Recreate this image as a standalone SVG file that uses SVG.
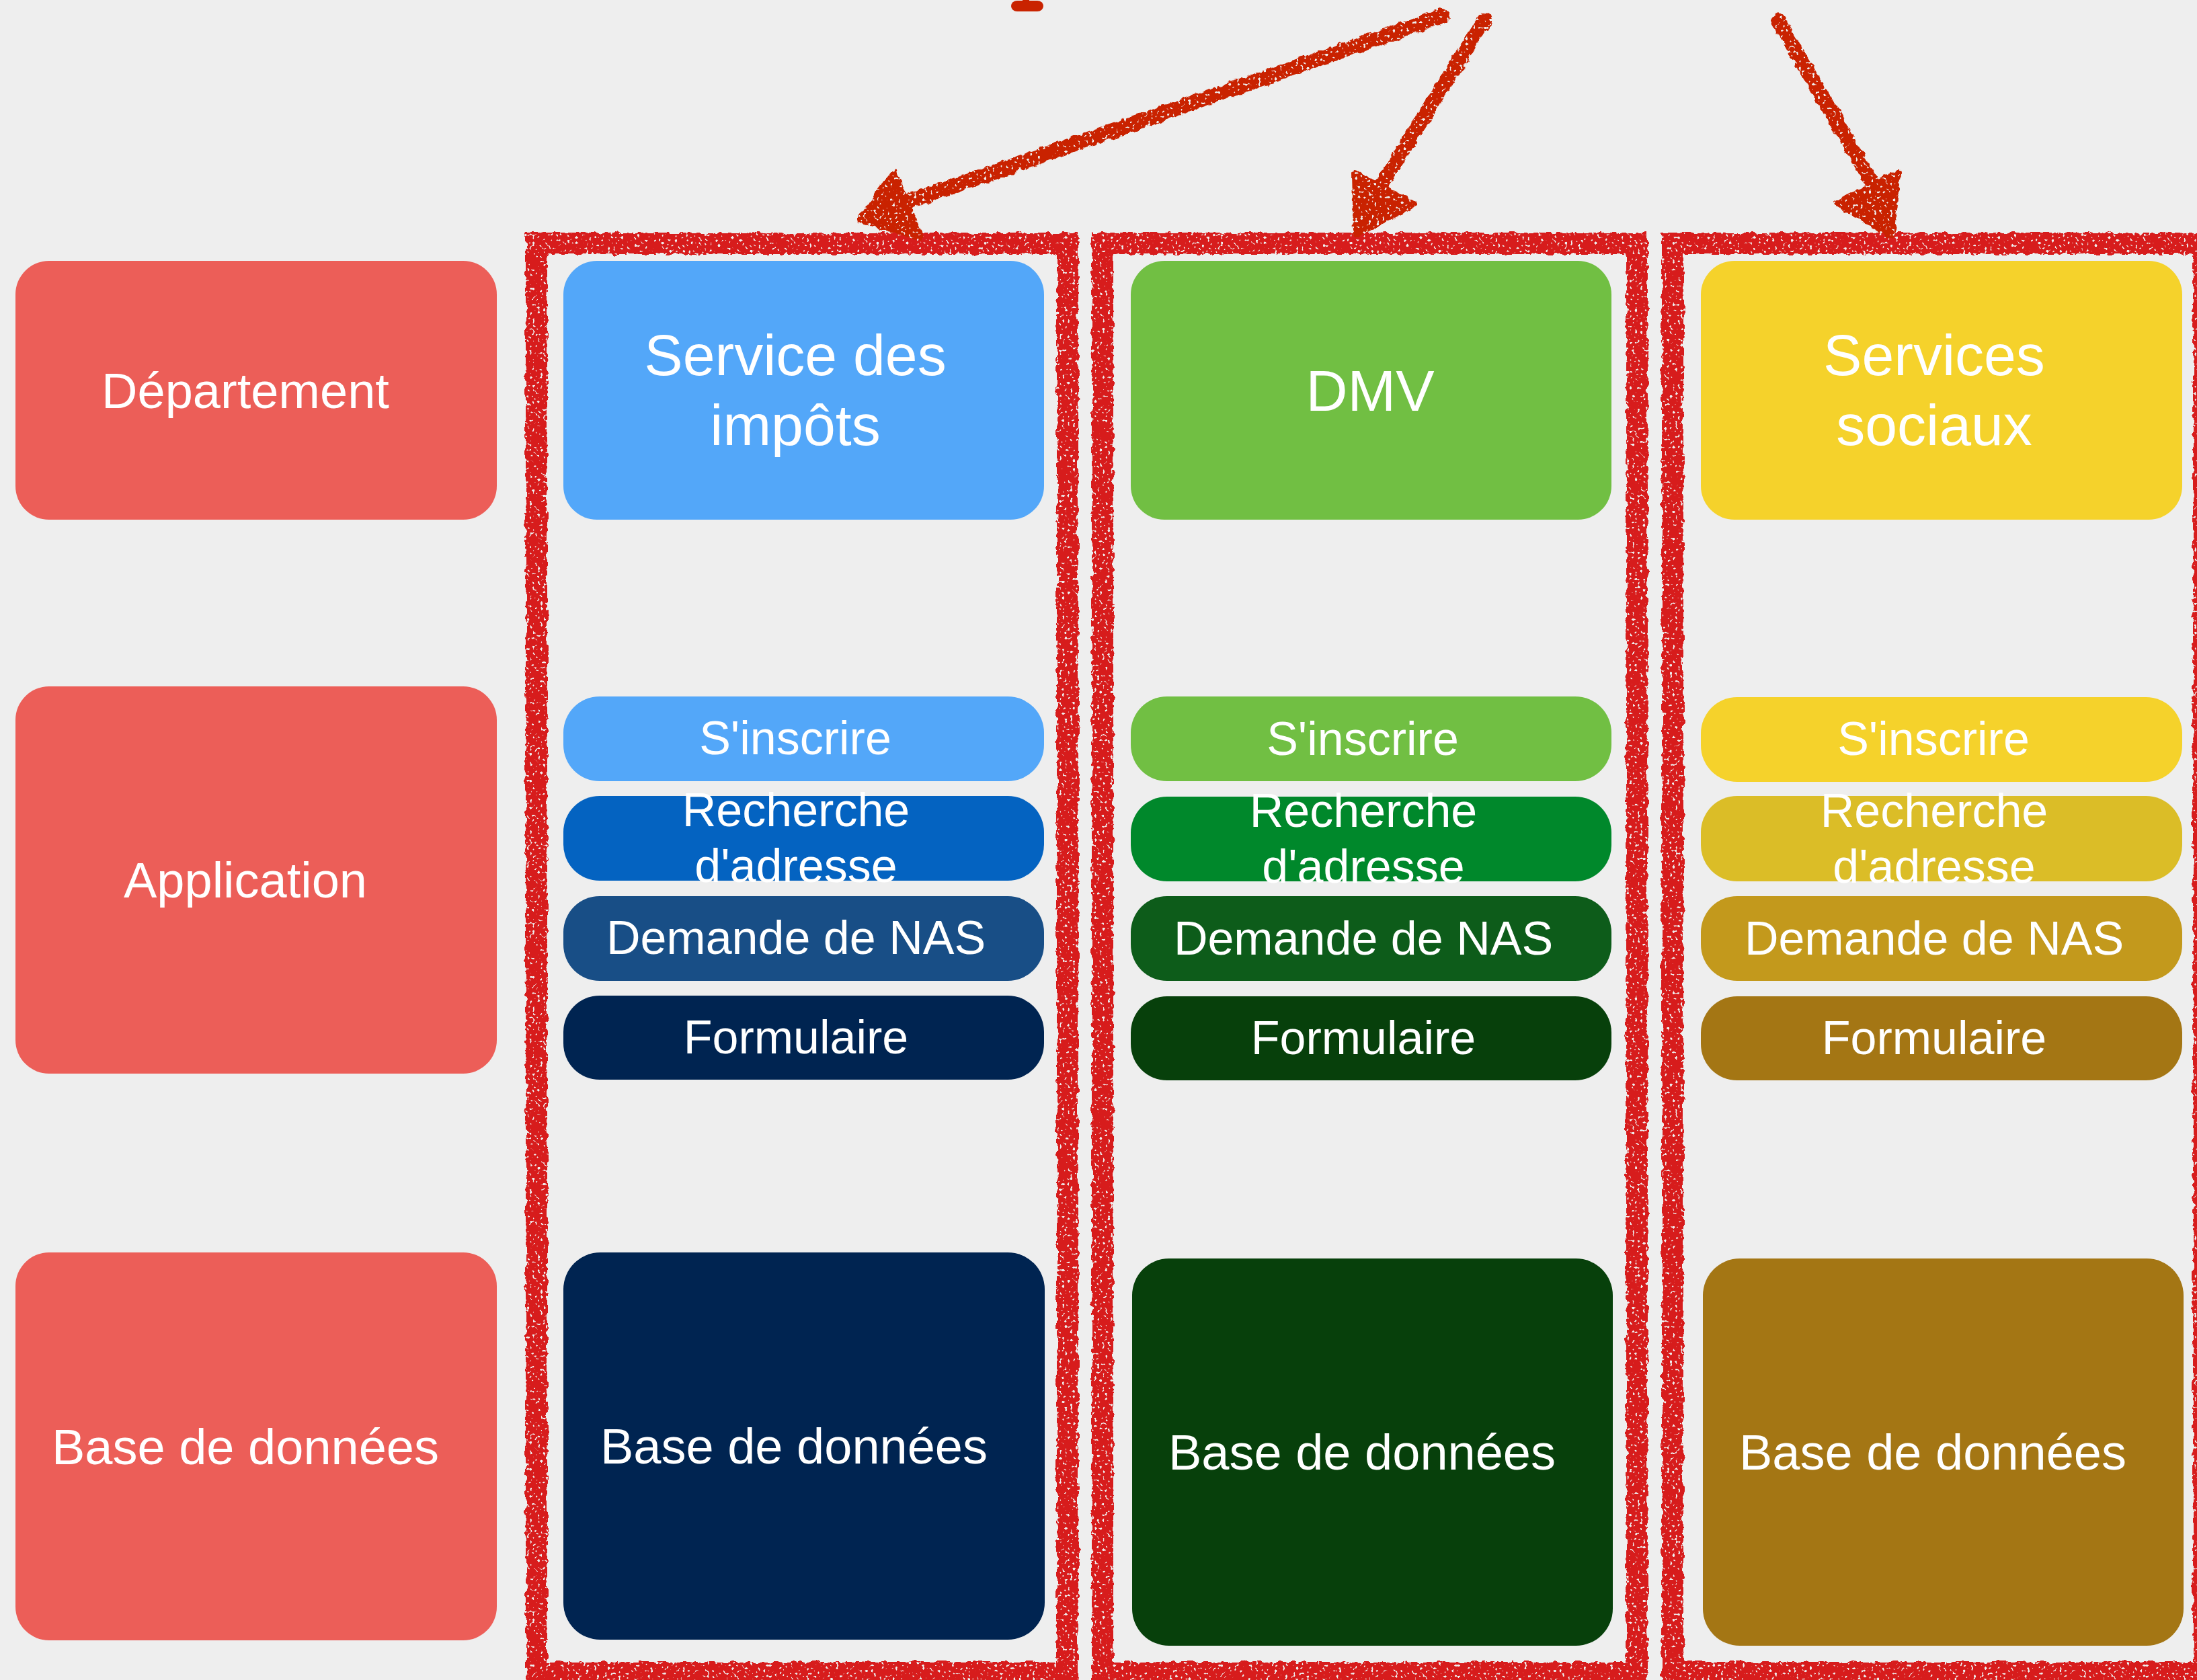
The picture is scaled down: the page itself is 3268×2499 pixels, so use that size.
<svg xmlns="http://www.w3.org/2000/svg" width="3268" height="2499" viewBox="0 0 3268 2499">
  <defs>
    <filter id="rough" filterUnits="userSpaceOnUse" x="0" y="0" width="3268" height="2499">
      <feTurbulence type="fractalNoise" baseFrequency="0.09" numOctaves="2" seed="4" result="n"/>
      <feDisplacementMap in="SourceGraphic" in2="n" scale="9" xChannelSelector="R" yChannelSelector="G" result="d"/>
      <feTurbulence type="fractalNoise" baseFrequency="0.25" numOctaves="1" seed="9" result="n2"/>
      <feColorMatrix in="n2" type="matrix" values="0 0 0 0 0  0 0 0 0 0  0 0 0 0 0  0 0 0 -16 11" result="mask"/>
      <feComposite in="d" in2="mask" operator="in"/>
    </filter>
    <style>
      .t { font-family: "Liberation Sans", Arial, Helvetica, sans-serif; fill: #ffffff; text-anchor: middle; }
      .hdr { font-size: 86px; }
      .lbl { font-size: 74px; }
      .app { font-size: 70px; }
      .frame { fill: none; stroke: #D71E1E; stroke-width: 32; stroke-linejoin: miter; }
      .arrow line { stroke: #C92300; stroke-width: 22; stroke-linecap: round; }
      .arrow polygon { fill: #C92300; stroke: #C92300; stroke-width: 10; stroke-linejoin: round; }
      .red { fill: #EC5E58; }
      .b1 { fill: #53A7F9; } .b2 { fill: #0463C1; } .b3 { fill: #184E86; } .b4 { fill: #002451; }
      .g1 { fill: #71BF43; } .g2 { fill: #00882B; } .g3 { fill: #0D5C1A; } .g4 { fill: #07400B; }
      .y1 { fill: #F5D22B; } .y2 { fill: #DBBD27; } .y3 { fill: #C3991C; } .y4 { fill: #A47614; }
    </style>
  </defs>

  <rect x="0" y="0" width="3268" height="2499" fill="#EEEEEE"/>

  <!-- small red mark at top -->
  <g id="top-mark">
    <rect x="1504" y="1" width="48" height="16" rx="9" fill="#C92300"/>
    <rect x="1521" y="0" width="10" height="4" fill="#C92300"/>
  </g>

  <!-- left row labels -->
  <g id="label-departement">
    <rect class="red" x="23" y="388" width="716" height="385" rx="50"/>
    <text class="t lbl" x="365" y="607">Département</text>
  </g>
  <g id="label-application">
    <rect class="red" x="23" y="1021" width="716" height="576" rx="50"/>
    <text class="t lbl" x="365" y="1335">Application</text>
  </g>
  <g id="label-base">
    <rect class="red" x="23" y="1863" width="716" height="577" rx="50"/>
    <text class="t lbl" x="365" y="2178">Base de données</text>
  </g>

  <!-- column 1 : Service des impôts -->
  <g id="impots-dept">
    <rect class="b1" x="838" y="388" width="715" height="385" rx="50"/>
    <text class="t hdr" x="1183" y="558">Service des</text>
    <text class="t hdr" x="1183" y="662">impôts</text>
  </g>
  <g id="impots-inscrire">
    <rect class="b1" x="838" y="1036" width="715" height="126" rx="54"/>
    <text class="t app" x="1183" y="1122">S'inscrire</text>
  </g>
  <g id="impots-recherche">
    <rect class="b2" x="838" y="1184" width="715" height="126" rx="54"/>
    <text class="t app" x="1184" y="1229">Recherche</text>
    <text class="t app" x="1184" y="1312">d'adresse</text>
  </g>
  <g id="impots-nas">
    <rect class="b3" x="838" y="1333" width="715" height="126" rx="54"/>
    <text class="t app" x="1184" y="1419">Demande de NAS</text>
  </g>
  <g id="impots-formulaire">
    <rect class="b4" x="838" y="1481" width="715" height="125" rx="54"/>
    <text class="t app" x="1184" y="1567">Formulaire</text>
  </g>
  <g id="impots-base">
    <rect class="b4" x="838" y="1863" width="716" height="576" rx="55"/>
    <text class="t lbl" x="1181" y="2177">Base de données</text>
  </g>

  <!-- column 2 : DMV -->
  <g id="dmv-dept">
    <rect class="g1" x="1682" y="388" width="715" height="385" rx="50"/>
    <text class="t hdr" x="2038" y="611">DMV</text>
  </g>
  <g id="dmv-inscrire">
    <rect class="g1" x="1682" y="1036" width="715" height="126" rx="54"/>
    <text class="t app" x="2027" y="1123">S'inscrire</text>
  </g>
  <g id="dmv-recherche">
    <rect class="g2" x="1682" y="1185" width="715" height="126" rx="54"/>
    <text class="t app" x="2028" y="1230">Recherche</text>
    <text class="t app" x="2028" y="1313">d'adresse</text>
  </g>
  <g id="dmv-nas">
    <rect class="g3" x="1682" y="1333" width="715" height="126" rx="54"/>
    <text class="t app" x="2028" y="1420">Demande de NAS</text>
  </g>
  <g id="dmv-formulaire">
    <rect class="g4" x="1682" y="1482" width="715" height="125" rx="54"/>
    <text class="t app" x="2028" y="1568">Formulaire</text>
  </g>
  <g id="dmv-base">
    <rect class="g4" x="1684" y="1872" width="715" height="576" rx="55"/>
    <text class="t lbl" x="2026" y="2186">Base de données</text>
  </g>

  <!-- column 3 : Services sociaux -->
  <g id="sociaux-dept">
    <rect class="y1" x="2530" y="388" width="716" height="385" rx="50"/>
    <text class="t hdr" x="2877" y="558">Services</text>
    <text class="t hdr" x="2877" y="662">sociaux</text>
  </g>
  <g id="sociaux-inscrire">
    <rect class="y1" x="2530" y="1037" width="716" height="126" rx="54"/>
    <text class="t app" x="2876" y="1123">S'inscrire</text>
  </g>
  <g id="sociaux-recherche">
    <rect class="y2" x="2530" y="1184" width="716" height="127" rx="54"/>
    <text class="t app" x="2877" y="1230">Recherche</text>
    <text class="t app" x="2877" y="1313">d'adresse</text>
  </g>
  <g id="sociaux-nas">
    <rect class="y3" x="2530" y="1333" width="716" height="126" rx="54"/>
    <text class="t app" x="2877" y="1420">Demande de NAS</text>
  </g>
  <g id="sociaux-formulaire">
    <rect class="y4" x="2530" y="1482" width="716" height="125" rx="54"/>
    <text class="t app" x="2877" y="1568">Formulaire</text>
  </g>
  <g id="sociaux-base">
    <rect class="y4" x="2533" y="1872" width="715" height="576" rx="55"/>
    <text class="t lbl" x="2875" y="2186">Base de données</text>
  </g>

  <!-- hand-drawn red frames around each department -->
  <g id="frames" filter="url(#rough)">
    <rect id="frame-impots" class="frame" x="798" y="362" width="790" height="2126"/>
    <rect id="frame-dmv" class="frame" x="1640" y="362" width="795" height="2126"/>
    <rect id="frame-sociaux" class="frame" x="2488" y="362" width="790" height="2126"/>
  </g>

  <!-- connectors: hand-drawn arrows -->
  <g id="connectors" class="arrow" filter="url(#rough)">
    <g id="arrow-impots">
      <line x1="2145" y1="24" x2="1340" y2="304"/>
      <polygon points="1278,327 1330,258 1368,352"/>
    </g>
    <g id="arrow-dmv">
      <line x1="2208" y1="30" x2="2050" y2="282"/>
      <polygon points="2018,348 2016,258 2102,304"/>
    </g>
    <g id="arrow-sociaux">
      <line x1="2645" y1="30" x2="2792" y2="285"/>
      <polygon points="2813,350 2734,302 2823,258"/>
    </g>
  </g>
</svg>
